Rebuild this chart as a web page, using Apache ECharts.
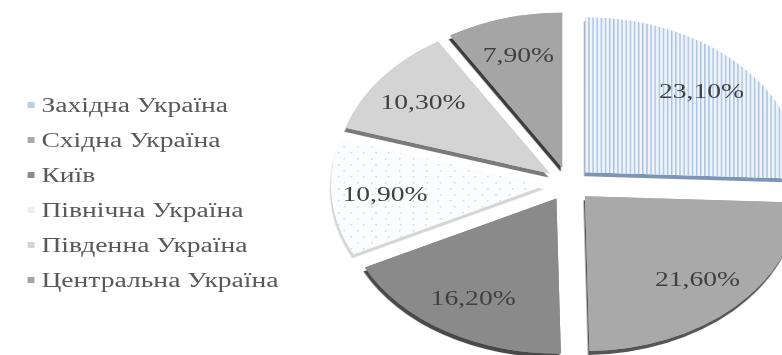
<!DOCTYPE html>
<html>
<head>
<meta charset="utf-8">
<script src="https://cdn.jsdelivr.net/npm/echarts@6/dist/echarts.min.js"></script>
<style>
html,body{margin:0;padding:0;background:#fff;overflow:hidden;}
#wrap{width:782px;height:355px;overflow:hidden;position:relative;}
#c{width:567px;height:355px;transform:scaleX(1.38);transform-origin:0 0;}
</style>
</head>
<body>
<div id="wrap"><div id="c"></div></div>
<script>
var categories = ['Західна Україна', 'Східна Україна', 'Київ', 'Північна Україна', 'Південна Україна', 'Центральна Україна'];
var values = [23.1, 21.6, 16.2, 10.9, 10.3, 7.9];
var colors = ['#eef4fa', '#a9a9a9', '#8a8a8a', '#fbfcfe', '#d4d4d4', '#a5a5a5'];
var legendColors = ['#b9cde6', '#a9a9a9', '#8a8a8a', '#e8eef6', '#d4d4d4', '#a5a5a5'];
var sideColors = ['#7d95b5', '#555555', '#4a4a4a', '#d6d6d6', '#7a7a7a', '#3e3e3e'];

var decals = [
  {color: 'rgba(120,158,208,0.6)', symbol: 'rect', symbolSize: 1, dashArrayX: [[1, 2]], dashArrayY: [3, 0], rotation: 0},
  null, null,
  {color: 'rgba(120,160,210,0.75)', symbol: 'circle', symbolSize: 0.35, dashArrayX: [[3, 6], [0, 4.5, 3, 1.5]], dashArrayY: [3, 3], rotation: 0},
  null, null
];

function makeData(mode) {
  return categories.map(function (name, i) {
    var item = {name: name, value: values[i], selected: true};
    if (mode === 'label') {
      item.itemStyle = {color: 'rgba(0,0,0,0)'};
    } else if (mode === 'base') {
      item.itemStyle = {color: colors[i], shadowColor: sideColors[i], shadowOffsetY: 4, shadowOffsetX: -1, shadowBlur: 0};
    } else {
      item.itemStyle = {color: colors[i]};
      if (decals[i]) { item.itemStyle.decal = decals[i]; }
    }
    return item;
  });
}

function pieSeries(mode, radius) {
  var s = {
    type: 'pie',
    center: [412, 184],
    radius: radius,
    startAngle: 90,
    clockwise: true,
    selectedMode: 'multiple',
    selectedOffset: 17,
    avoidLabelOverlap: false,
    silent: true,
    itemStyle: {borderWidth: 0},
    emphasis: {disabled: true},
    label: {show: false},
    labelLine: {show: false},
    data: makeData(mode)
  };
  if (mode === 'label') {
    s.label = {
      show: true,
      position: 'inside',
      fontFamily: 'Liberation Serif',
      fontSize: 20,
      color: '#404040',
      formatter: function (p) { return p.value.toFixed(2).replace('.', ',') + '%'; }
    };
  }
  return s;
}

var chart = echarts.init(document.getElementById('c'), null, {renderer: 'svg', width: 567, height: 355});
chart.setOption({
  animation: false,
  backgroundColor: '#ffffff',
  legend: {
    orient: 'vertical',
    left: 15,
    top: 90,
    itemWidth: 5,
    itemHeight: 6,
    itemGap: 15,
    icon: 'rect',
    selectedMode: false,
    textStyle: {fontFamily: 'Liberation Serif', fontSize: 20, color: '#595959'},
    data: categories.map(function (n, i) { return {name: n, itemStyle: {color: legendColors[i], decal: 'none'}}; })
  },
  series: [
    pieSeries('base', [0, 155]),
    pieSeries('face', [0, 155]),
    pieSeries('label', [72, 155])
  ]
});
</script>
</body>
</html>
